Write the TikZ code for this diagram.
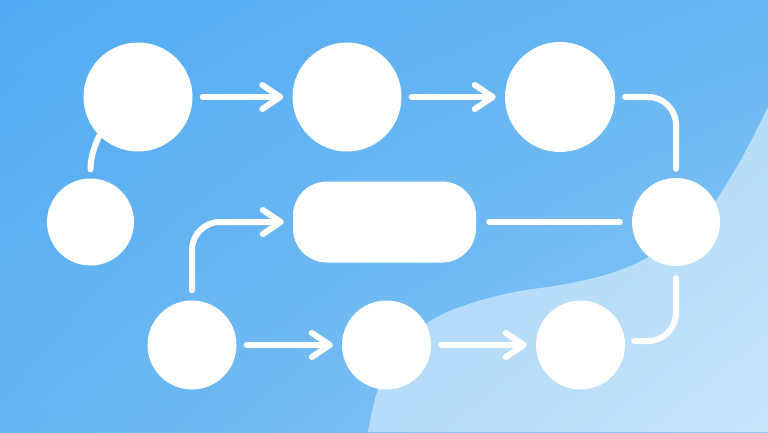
\documentclass[tikz,border=0pt]{standalone}
\usepackage{tikz}
\usetikzlibrary {arrows.meta}
\usetikzlibrary {shadings}

\definecolor{haikeiA}{RGB}{82,172,243}
\definecolor{haikeiB}{RGB}{104,182,242}
\definecolor{haikeiC}{RGB}{102,180,240}
\definecolor{haikeiD}{RGB}{138,200,246}
\definecolor{namiA}{RGB}{166,212,247}
\definecolor{namiB}{RGB}{182,220,249}
\definecolor{namiC}{RGB}{198,228,250}

\begin{document}
\begin{tikzpicture}[x=1pt, y=1pt,
    maru/.style={circle, fill=white, inner sep=0pt, minimum size=#1},
    sen/.style={draw=white, line width=6pt, line cap=round, line join=round, shorten <=10pt, shorten >=9pt},
    ya/.style={sen, -{Straight Barb[length=18pt, width=24pt, round]}}]
  % 背景
  \useasboundingbox (0,0) rectangle (768,432);
  \shade[upper left=haikeiA, upper right=haikeiB, lower left=haikeiC, lower right=haikeiD] (0,0) rectangle (768,432);
  \shade[upper left=namiA, upper right=namiB, lower left=namiB, lower right=namiC]
    plot[smooth, tension=0.7] coordinates {(368,0) (380,49) (403,89) (427,109) (460,125) (510,139) (571,149) (620,162) (660,182) (700,212) (735,262) (768,325)}
    -- (768,0) -- cycle;

  % ノード
  \node[maru=109pt] (A) at (138,335) {};
  \node[maru=109pt] (B) at (347,335) {};
  \node[maru=110pt] (C) at (560,335) {};
  \node[maru=87pt] (D) at (90.5,210) {};
  \node[fill=white, rounded corners=34pt, minimum width=183pt, minimum height=81pt] (R) at (384.5,210) {};
  \node[maru=88pt] (E) at (676,210) {};
  \node[maru=89pt] (F) at (192,87) {};
  \node[maru=89pt] (G) at (386.5,87) {};
  \node[maru=89pt] (H) at (580.5,87) {};

  % 上の段
  \draw[ya] (A) -- (B);
  \draw[ya] (B) -- (C);
  \draw[sen, rounded corners=28pt] (C) -| (E);
  \draw[sen, shorten <=0pt] (A.225) to[out=-115, in=90] (D);

  % 中の段
  \draw[ya, rounded corners=28pt] (F) |- (R);
  \draw[sen, shorten <=13pt, shorten >=12pt] (R) -- (E);

  % 下の段
  \draw[sen, shorten <=12pt, rounded corners=28pt] (E) |- ([yshift=4pt]H.east);
  \draw[ya] (F) -- (G);
  \draw[ya] (G) -- (H);
\end{tikzpicture}
\end{document}
